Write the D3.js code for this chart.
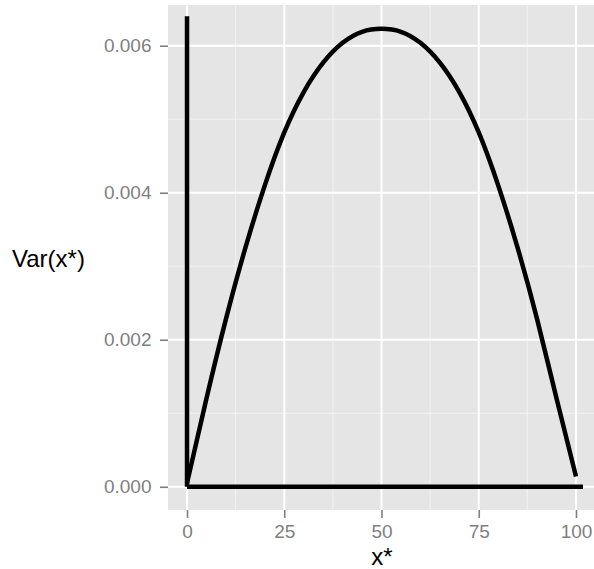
<!DOCTYPE html>
<html>
<head>
<meta charset="utf-8">
<script src="https://d3js.org/d3.v7.min.js"></script>
<style>
    body { margin: 0; background: #fff; }
    svg { display: block; font-family: "Liberation Sans", Arial, sans-serif; }
    .tick text { fill: #7f7f7f; font-size: 19px; }
    .tick line { stroke: #7f7f7f; stroke-width: 1.6; }
</style>
</head>
<body>
<svg width="594" height="569"></svg>
<script>

    // curve
    var curveX = [0, 5, 10, 15, 20, 25, 30, 35, 40, 45, 50, 55, 60, 65, 70, 75, 80, 85, 90, 95, 100];
    var curveY = [0.00005, 0.0012, 0.00228, 0.00325, 0.0041, 0.00482, 0.00537, 0.00577, 0.00604, 0.00619, 0.00623,
                  0.00619, 0.00604, 0.00577, 0.00537, 0.00482, 0.0041, 0.00325, 0.00228, 0.0012, 0.00014];

    // the two straight lines along the axes
    var vLineX = [0, 0];
    var vLineY = [0, 0.0064];
    var hLineX = [0, 101.8];
    var hLineY = [0, 0];

    var xTicks = [0, 25, 50, 75, 100];
    var xMinor = [12.5, 37.5, 62.5, 87.5];
    var yTicks = [0, 0.002, 0.004, 0.006];
    var yMinor = [0.001, 0.003, 0.005];

    var svg = d3.select("svg"),
        panel = { left: 168, top: 5, bottom: 510, right: 611 };

    var x = d3.scaleLinear()
        .domain([-4.89, 109])
        .range([panel.left, panel.right]);

    var y = d3.scaleLinear()
        .domain([-0.000316, 0.006554])
        .range([panel.bottom, panel.top]);

    // panel background
    svg.append("rect")
        .attr("x", panel.left)
        .attr("y", panel.top)
        .attr("width", panel.right - panel.left)
        .attr("height", panel.bottom - panel.top)
        .attr("fill", "#e5e5e5");

    var grid = svg.append("g");
    grid.selectAll(".xminor").data(xMinor).enter().append("line")
        .attr("x1", d => x(d)).attr("x2", d => x(d))
        .attr("y1", panel.top).attr("y2", panel.bottom)
        .attr("stroke", "#f2f2f2").attr("stroke-width", 1);
    grid.selectAll(".yminor").data(yMinor).enter().append("line")
        .attr("y1", d => y(d)).attr("y2", d => y(d))
        .attr("x1", panel.left).attr("x2", panel.right)
        .attr("stroke", "#f2f2f2").attr("stroke-width", 1);
    grid.selectAll(".xmajor").data(xTicks).enter().append("line")
        .attr("x1", d => x(d)).attr("x2", d => x(d))
        .attr("y1", panel.top).attr("y2", panel.bottom)
        .attr("stroke", "#fff").attr("stroke-width", 2);
    grid.selectAll(".ymajor").data(yTicks).enter().append("line")
        .attr("y1", d => y(d)).attr("y2", d => y(d))
        .attr("x1", panel.left).attr("x2", panel.right)
        .attr("stroke", "#fff").attr("stroke-width", 2);

    // axes
    svg.append("g")
        .attr("transform", "translate(0," + panel.bottom + ")")
        .call(d3.axisBottom(x).tickValues(xTicks).tickSize(8).tickPadding(7))
        .call(g => g.select(".domain").remove());

    svg.append("g")
        .attr("transform", "translate(" + panel.left + ",0)")
        .call(d3.axisLeft(y).tickValues(yTicks).tickSize(8).tickPadding(8.5).tickFormat(d3.format(".3f")))
        .call(g => g.select(".domain").remove());

    // data lines
    var line = d3.line()
        .x(d => x(d[0]))
        .y(d => y(d[1]));

    var lines = [
        { pts: d3.zip(vLineX, vLineY), curve: d3.curveLinear },
        { pts: d3.zip(hLineX, hLineY), curve: d3.curveLinear },
        { pts: d3.zip(curveX, curveY), curve: d3.curveNatural }
    ];

    svg.selectAll(".dline")
        .data(lines)
        .enter().append("path")
        .attr("class", "dline")
        .attr("fill", "none")
        .attr("stroke", "#000")
        .attr("stroke-width", 4.5)
        .attr("stroke-linejoin", "round")
        .attr("d", d => line.curve(d.curve)(d.pts));

    // axis titles
    svg.append("text")
        .attr("x", 382)
        .attr("y", 565)
        .attr("text-anchor", "middle")
        .attr("font-size", 24)
        .attr("fill", "#000")
        .text("x*");

    svg.append("text")
        .attr("x", 12)
        .attr("y", 267)
        .attr("font-size", 24)
        .attr("fill", "#000")
        .text("Var(x*)");

</script>
</body>
</html>
